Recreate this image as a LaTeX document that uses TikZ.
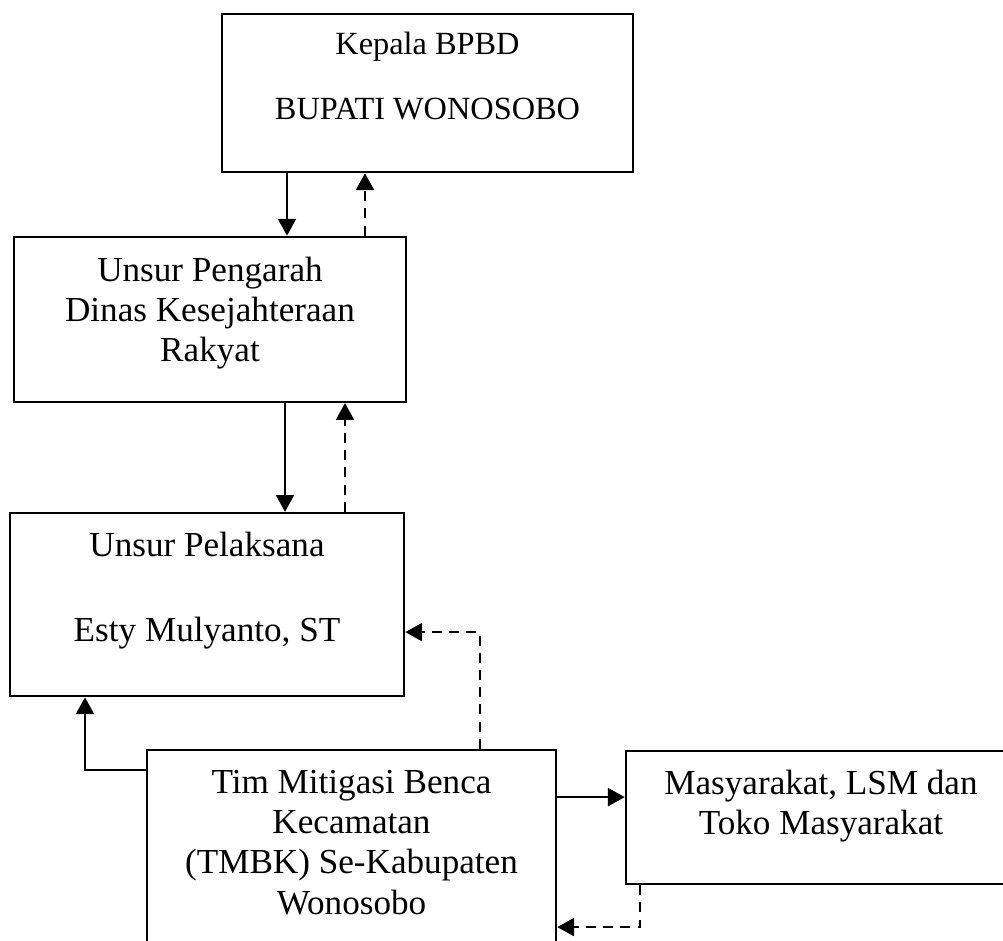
\documentclass[tikz,border=0pt]{standalone}
\usepackage{fontspec}
\setmainfont{Liberation Serif}
\usetikzlibrary{arrows.meta,positioning}

\begin{document}
\begin{tikzpicture}[
  box/.style={draw, line width=1.8pt, inner sep=0pt},
  boxtext/.style={align=center, inner sep=0pt, font=\fontsize{25}{28.5}\selectfont},
  cmd/.style={line width=1.5pt, -{Triangle[length=0.42cm, width=0.45cm]}},
  report/.style={cmd, dash pattern=on 0.25cm off 0.18cm},
]

\useasboundingbox (0,0) rectangle (25.075,23.525);
\clip (0,0) rectangle (25.075,23.525);

% Boxes
\node[box, minimum width=10.275cm, minimum height=3.95cm] (bupati) at (10.6875, 21.2) {};
\node[box, minimum width=9.8cm, minimum height=4.125cm] (pengarah) at (5.25, 15.54) {};
\node[box, minimum width=9.85cm, minimum height=4.575cm] (pelaksana) at (5.175, 8.41) {};
\node[box, minimum width=10.225cm, minimum height=6.125cm] (tmbk) at (8.7875, 1.71) {};
\node[box, minimum width=9.75cm, minimum height=3.325cm] (masy) at (20.525, 3.09) {};

% Texts
\node[boxtext, font=\fontsize{23}{46.2}\selectfont] (bupatiT) at ([yshift=0.425cm]bupati.center) {Kepala BPBD\\BUPATI WONOSOBO};
\node[boxtext] (pengarahT) at ([yshift=0.15cm]pengarah.center) {Unsur Pengarah\\Dinas Kesejahteraan\\Rakyat};
\node[boxtext, font=\fontsize{25}{60.5}\selectfont] (pelaksanaT) at ([yshift=0.35cm]pelaksana.center) {Unsur Pelaksana\\Esty Mulyanto, ST};
\node[boxtext] (tmbkT) at ([yshift=0.75cm]tmbk.center) {Tim Mitigasi Benca\\Kecamatan\\(TMBK) Se-Kabupaten\\Wonosobo};
\node[boxtext] (masyT) at ([yshift=0.28cm]masy.center) {Masyarakat, LSM dan\\Toko Masyarakat};

% Bupati <-> Pengarah
\coordinate (c1) at ([xshift=-3.5125cm]bupati.south);
\coordinate (r1) at ([xshift=3.875cm]pengarah.north);
\draw[cmd] (c1) -- (c1 |- pengarah.north);
\draw[report] (r1) -- (r1 |- bupati.south);

% Pengarah <-> Pelaksana
\coordinate (c2) at ([xshift=1.875cm]pengarah.south);
\coordinate (r2) at ([xshift=3.375cm]pengarah.south);
\draw[cmd] (c2) -- (c2 |- pelaksana.north);
\draw[report] (r2 |- pelaksana.north) -- (r2);

% TMBK -> Pelaksana
\draw[report] ([xshift=3.2125cm]tmbk.north) |- ([yshift=-0.6875cm]pelaksana.east);
\draw[cmd] ([yshift=2.5625cm]tmbk.west) -| ([xshift=-3.05cm]pelaksana.south);

% TMBK <-> Masyarakat
\coordinate (c3) at ([yshift=1.8875cm]tmbk.east);
\draw[cmd] (c3) -- (c3 -| masy.west);
\draw[report] ([xshift=-4.525cm]masy.south) |- ([yshift=-1.3625cm]tmbk.east);

\end{tikzpicture}
\end{document}
